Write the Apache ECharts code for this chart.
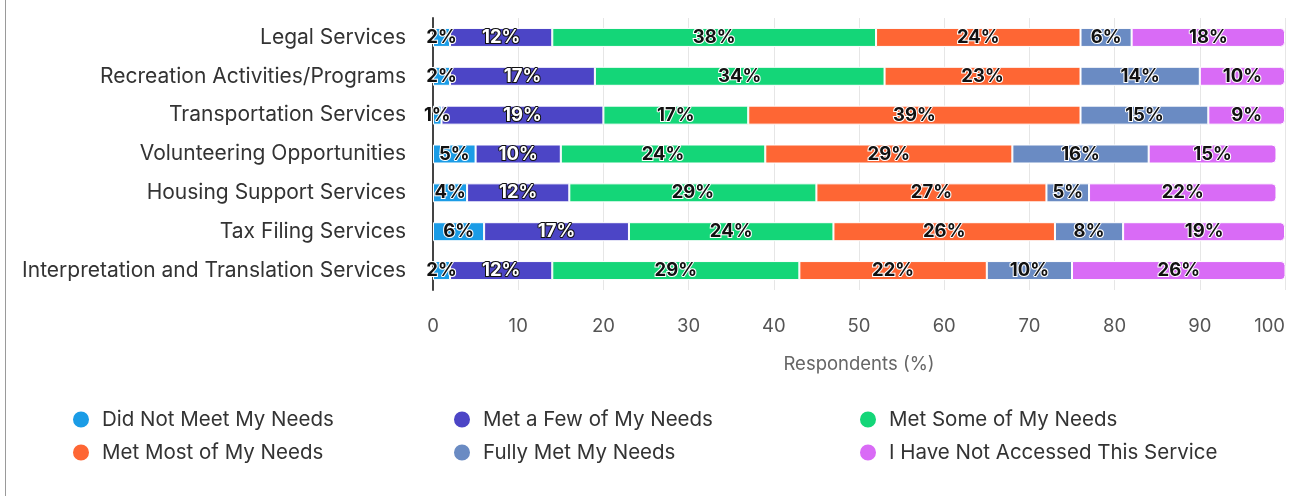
<!DOCTYPE html>
<html>
<head>
<meta charset="utf-8">
<title>Service Satisfaction</title>
<script src="https://cdn.jsdelivr.net/npm/echarts@6/dist/echarts.min.js"></script>
<style>
  html, body { margin: 0; padding: 0; background: #fff; overflow: hidden; }
  #chart { width: 1299px; height: 496px; }
</style>
</head>
<body>
<div id="chart"></div>
<script>
// Services surveyed (top to bottom)
const categories = [
  'Legal Services',
  'Recreation Activities/Programs',
  'Transportation Services',
  'Volunteering Opportunities',
  'Housing Support Services',
  'Tax Filing Services',
  'Interpretation and Translation Services'
];

// Share of respondents (%) per response, in category order
const didNotMeet   = [2, 2, 1, 5, 4, 6, 2];
const metAFew      = [12, 17, 19, 10, 12, 17, 12];
const metSome      = [38, 34, 17, 24, 29, 24, 29];
const metMost      = [24, 23, 39, 29, 27, 26, 22];
const fullyMet     = [6, 14, 15, 16, 5, 8, 10];
const notAccessed  = [18, 10, 9, 15, 22, 19, 26];

const xTicks = [0, 10, 20, 30, 40, 50, 60, 70, 80, 90, 100];

const FONT = 'Inter, "Noto Sans", "Liberation Sans", sans-serif';

const seriesDefs = [
  { name: 'Did Not Meet My Needs', data: didNotMeet, color: '#1b9ce6', dark: false },
  { name: 'Met a Few of My Needs', data: metAFew, color: '#4c45c6', dark: true },
  { name: 'Met Some of My Needs', data: metSome, color: '#14d678', dark: false },
  { name: 'Met Most of My Needs', data: metMost, color: '#fe6634', dark: false },
  { name: 'Fully Met My Needs', data: fullyMet, color: '#6a8bc3', dark: false },
  { name: 'I Have Not Accessed This Service', data: notAccessed, color: '#d96bf6', dark: false }
];

const series = seriesDefs.map((s, i) => ({
  name: s.name,
  type: 'bar',
  stack: 'total',
  barWidth: 19,
  data: s.data,
  itemStyle: {
    color: s.color,
    borderColor: '#ffffff',
    borderWidth: 1,
    borderRadius: i === seriesDefs.length - 1 ? [0, 4, 4, 0] : 0
  },
  label: {
    show: true,
    position: 'inside',
    formatter: '{c}%',
    fontFamily: FONT,
    fontWeight: 'bold',
    fontSize: 18.5,
    color: s.dark ? '#ffffff' : '#111111',
    textBorderColor: s.dark ? '#111111' : '#ffffff',
    textBorderWidth: 2
  },
  emphasis: { disabled: true }
}));

const legendCommon = {
  orient: 'vertical',
  top: 404,
  icon: 'circle',
  itemWidth: 32,
  itemHeight: 18,
  itemGap: 12,
  selectedMode: false,
  textStyle: { fontFamily: FONT, fontSize: 20.5, color: '#333333' }
};

const option = {
  animation: false,
  textStyle: { fontFamily: FONT },
  grid: {
    left: 433, right: 14, top: 18, bottom: 206,
    containLabel: false,
    outerBoundsMode: 'none'
  },
  legend: [
    Object.assign({ left: 66, data: [seriesDefs[0].name, seriesDefs[3].name] }, legendCommon),
    Object.assign({ left: 447, data: [seriesDefs[1].name, seriesDefs[4].name] }, legendCommon),
    Object.assign({ left: 853, data: [seriesDefs[2].name, seriesDefs[5].name] }, legendCommon)
  ],
  xAxis: {
    type: 'value',
    min: xTicks[0],
    max: xTicks[xTicks.length - 1],
    interval: xTicks[1] - xTicks[0],
    name: 'Respondents (%)',
    nameLocation: 'middle',
    nameGap: 65,
    nameTextStyle: { fontFamily: FONT, fontSize: 18.5, color: '#666666' },
    axisLine: { show: false },
    axisTick: { show: false },
    axisLabel: {
      fontFamily: FONT, fontSize: 18.5, color: '#555555', margin: 27,
      alignMaxLabel: 'right'
    },
    splitLine: { show: true, lineStyle: { color: '#e6e6e6', width: 1 } }
  },
  yAxis: {
    type: 'category',
    inverse: true,
    data: categories,
    axisLine: { show: true, lineStyle: { color: '#444444', width: 2 } },
    axisTick: { show: false },
    axisLabel: { fontFamily: FONT, fontSize: 21, color: '#333333', margin: 27 }
  },
  graphic: [{
    type: 'line',
    shape: { x1: 5.5, y1: 0, x2: 5.5, y2: 496 },
    style: { stroke: '#9a9a9a', lineWidth: 1 },
    silent: true
  }],
  series: series
};

const chart = echarts.init(document.getElementById('chart'), null, { renderer: 'canvas' });
chart.setOption(option);
</script>
</body>
</html>
